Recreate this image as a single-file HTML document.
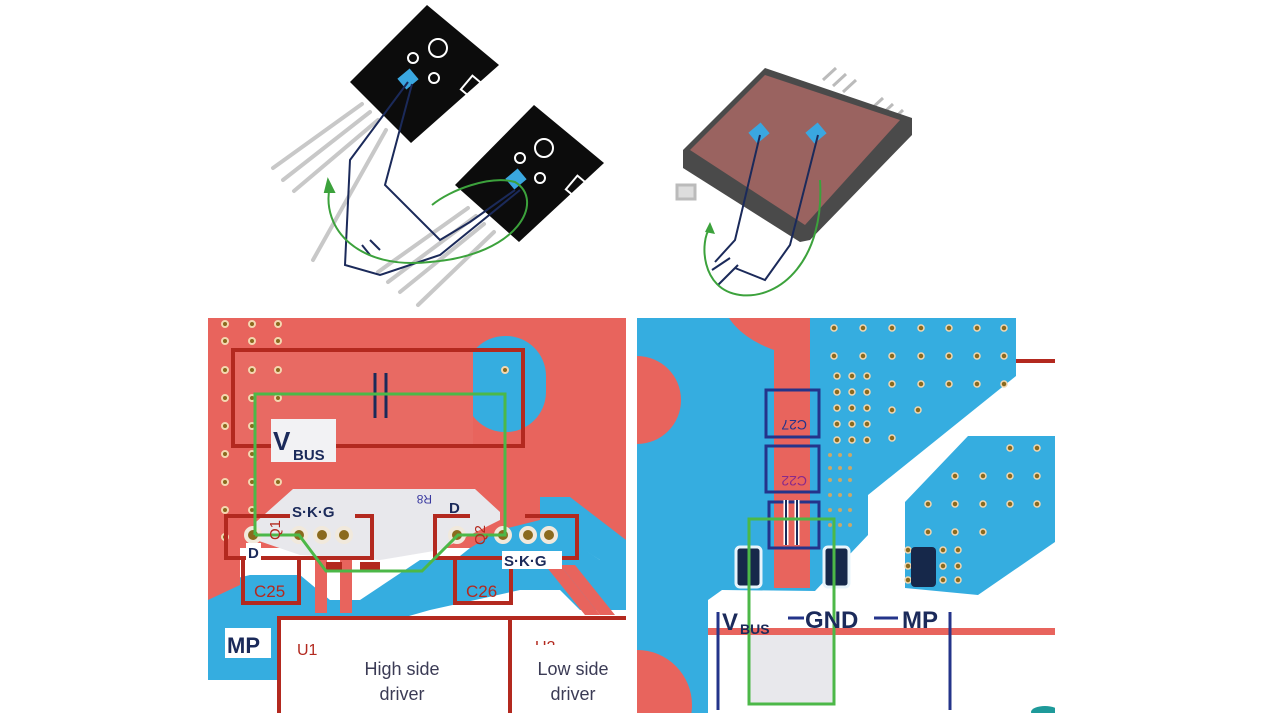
<!DOCTYPE html>
<html><head><meta charset="utf-8"><style>
html,body{margin:0;padding:0;background:#fff;width:1280px;height:721px;overflow:hidden;}
svg{display:block}
text{font-family:"Liberation Sans",Arial,sans-serif}
</style></head><body>
<svg width="1280" height="721" viewBox="0 0 1280 721" xmlns="http://www.w3.org/2000/svg">
<rect width="1280" height="721" fill="#fff"/>

<!-- ===== TOP LEFT: TO-247 packages ===== -->
<g stroke="#c8c8c8" stroke-width="4" stroke-linecap="round" fill="none">
  <line x1="362" y1="104" x2="273" y2="168"/>
  <line x1="370" y1="112" x2="283" y2="180"/>
  <line x1="378" y1="120" x2="294" y2="191"/>
  <line x1="386" y1="130" x2="313" y2="260"/>
  <line x1="468" y1="208" x2="378" y2="272"/>
  <line x1="476" y1="216" x2="388" y2="282"/>
  <line x1="484" y1="224" x2="400" y2="292"/>
  <line x1="494" y1="232" x2="418" y2="305"/>
</g>
<polygon points="350,82 427,5 499,65 411,143" fill="#0c0c0c"/>
<polygon points="455,185 534,105 604,163 519,242" fill="#0c0c0c"/>
<g fill="none" stroke="#fff" stroke-width="2">
  <circle cx="438" cy="48" r="9"/><circle cx="413" cy="58" r="5"/><circle cx="434" cy="78" r="5"/>
  <circle cx="544" cy="148" r="9"/><circle cx="520" cy="158" r="5"/><circle cx="540" cy="178" r="5"/>
  <rect x="465" y="78" width="14" height="18" transform="rotate(40 472 87)"/>
  <rect x="570" y="178" width="14" height="18" transform="rotate(40 577 187)"/>
</g>
<rect x="400" y="72" width="16" height="14" fill="#3aa7e0" transform="rotate(-40 408 79)"/>
<rect x="508" y="172" width="16" height="14" fill="#3aa7e0" transform="rotate(-40 516 179)"/>
<g fill="none" stroke="#1b2a5a" stroke-width="2">
  <polyline points="408,82 350,160 345,265 380,275 440,255 520,190"/>
  <polyline points="412,84 385,185 440,240 470,222 515,190"/>
  <line x1="362" y1="245" x2="370" y2="255"/><line x1="370" y1="240" x2="380" y2="250"/>
</g>
<g fill="none" stroke="#3ca23c" stroke-width="2">
  <path d="M330,185 C320,230 360,270 430,262 C520,255 545,200 515,182 C490,175 450,190 432,205"/>
  <polygon points="328,180 334,192 325,192" fill="#3ca23c"/>
</g>

<!-- ===== TOP RIGHT: SMD package ===== -->
<g stroke="#bbb" stroke-width="3" fill="none">
  <line x1="823" y1="80" x2="836" y2="68"/><line x1="833" y1="86" x2="846" y2="74"/><line x1="843" y1="92" x2="856" y2="80"/>
  <line x1="870" y1="110" x2="883" y2="98"/><line x1="880" y1="116" x2="893" y2="104"/><line x1="890" y1="122" x2="903" y2="110"/>
  <rect x="677" y="185" width="18" height="14" fill="#ddd"/>
</g>
<polygon points="683,150 765,68 912,118 912,135 810,240 800,242 683,168" fill="#4a4a4a"/>
<polygon points="690,150 765,75 900,120 805,225" fill="#9a6360"/>
<rect x="751" y="126" width="16" height="14" fill="#3aa7e0" transform="rotate(-40 759 133)"/>
<rect x="808" y="126" width="16" height="14" fill="#3aa7e0" transform="rotate(-40 816 133)"/>
<g stroke="#1b2a5a" stroke-width="2" fill="none">
  <polyline points="760,135 735,240 715,262"/>
  <polyline points="818,135 790,245 765,280 735,268"/>
  <line x1="712" y1="270" x2="730" y2="258"/><line x1="718" y1="285" x2="738" y2="265"/>
</g>
<path d="M820,180 C825,260 780,300 740,295 C700,290 700,240 710,228" fill="none" stroke="#3ca23c" stroke-width="2"/>
<polygon points="710,222 715,234 705,232" fill="#3ca23c"/>

<!-- ===== BOTTOM LEFT PANEL ===== -->
<clipPath id="cl"><rect x="208" y="318" width="418" height="395"/></clipPath>
<g clip-path="url(#cl)">
  <rect x="208" y="318" width="418" height="395" fill="#fff"/>
  <rect x="208" y="318" width="418" height="230" fill="#e8645d"/>
  <polygon points="208,585 250,575 300,575 330,600 360,600 420,560 455,560 470,548 500,530 540,520 600,560 626,560 626,610 580,610 560,590 520,590 430,610 360,630 330,640 300,680 208,680" fill="#35ade0"/>
  <polygon points="208,548 240,548 240,585 208,600" fill="#e8645d"/>
  <polygon points="293,489 475,489 500,512 500,520 440,550 380,560 300,555 256,540 256,522" fill="#e8e8ec"/>
  <polygon points="540,497 570,497 626,540 626,560 600,560 540,522" fill="#35ade0"/>
  <rect x="465" y="336" width="81" height="96" rx="40" fill="#35ade0"/>
  <rect x="233" y="350" width="240" height="96" fill="#e86a63"/>
  <rect x="279" y="618" width="347" height="95" fill="#fff"/>
  <polygon points="208,680 300,680 279,713 208,713" fill="#fff"/>
  <g fill="#8a6a1e" stroke="#f3d7b0" stroke-width="2">
    <circle cx="225" cy="324" r="3"/><circle cx="252" cy="324" r="3"/><circle cx="278" cy="324" r="3"/>
    <circle cx="225" cy="341" r="3"/><circle cx="252" cy="341" r="3"/><circle cx="278" cy="341" r="3"/>
    <circle cx="225" cy="370" r="3"/><circle cx="252" cy="370" r="3"/><circle cx="278" cy="370" r="3"/>
    <circle cx="225" cy="398" r="3"/><circle cx="252" cy="398" r="3"/><circle cx="278" cy="398" r="3"/>
    <circle cx="225" cy="426" r="3"/><circle cx="252" cy="426" r="3"/><circle cx="278" cy="426" r="3"/>
    <circle cx="225" cy="454" r="3"/><circle cx="252" cy="454" r="3"/><circle cx="278" cy="454" r="3"/>
    <circle cx="225" cy="482" r="3"/><circle cx="252" cy="482" r="3"/><circle cx="278" cy="482" r="3"/>
    <circle cx="225" cy="510" r="3"/><circle cx="252" cy="510" r="3"/>
    <circle cx="225" cy="537" r="3"/>
    <circle cx="505" cy="370" r="3"/>
  </g>
  <g fill="#e8645d">
    <rect x="315" y="558" width="12" height="55"/><rect x="340" y="558" width="12" height="55"/>
    <polygon points="545,565 560,565 600,615 585,615"/><polygon points="560,565 575,565 615,615 600,615"/>
  </g>
  <rect x="233" y="350" width="290" height="96" fill="none" stroke="#b3291f" stroke-width="4"/>
  <g fill="none" stroke="#b3291f" stroke-width="4">
    <polyline points="290,516 226,516 226,558 372,558 372,516 355,516"/>
    <polyline points="470,516 435,516 435,558 577,558 577,516 525,516"/>
    <polyline points="260,558 243,558 243,603 299,603 299,558"/>
    <polyline points="470,558 455,558 455,603 511,603 511,558"/>
    <line x1="277" y1="618" x2="626" y2="618"/>
    <line x1="279" y1="618" x2="279" y2="713"/>
    <line x1="510" y1="618" x2="510" y2="713"/>
  </g>
  <rect x="326" y="562" width="16" height="10" fill="#b3291f"/><rect x="360" y="562" width="20" height="10" fill="#b3291f"/>
  <g fill="#8a6a1e" stroke="#f1e9dc" stroke-width="4">
    <circle cx="253" cy="535" r="7"/><circle cx="299" cy="535" r="7"/><circle cx="322" cy="535" r="7"/><circle cx="344" cy="535" r="7"/>
    <circle cx="457" cy="535" r="7"/><circle cx="503" cy="535" r="7"/><circle cx="528" cy="535" r="7"/><circle cx="549" cy="535" r="7"/>
  </g>
  <g stroke="#1b2a5a" stroke-width="3"><line x1="375" y1="373" x2="375" y2="418"/><line x1="386" y1="373" x2="386" y2="418"/></g>
  <polyline points="255,535 255,394 505,394 505,535 458,535 422,571 326,571 299,535 255,535" fill="none" stroke="#4cb848" stroke-width="3"/>
  <rect x="271" y="419" width="65" height="43" fill="#f2f2f4"/>
  <text x="273" y="450" font-size="26" font-weight="bold" fill="#1b2a5a">V</text>
  <text x="293" y="460" font-size="15" font-weight="bold" fill="#1b2a5a">BUS</text>
  <g font-size="15" font-weight="bold" fill="#1b2a5a">
    <text x="292" y="517">S·K·G</text>
    <text x="449" y="513">D</text>
    <rect x="246" y="543" width="15" height="18" fill="#fff"/><text x="248" y="558">D</text>
    <rect x="502" y="551" width="60" height="18" fill="#fff"/><text x="504" y="566">S·K·G</text>
  </g>
  <text x="418" y="503" font-size="12" fill="#3a3aa0" transform="rotate(180 425 499)">R8</text>
  <text x="280" y="540" font-size="15" fill="#b3291f" transform="rotate(-90 280 540)">Q1</text>
  <text x="485" y="545" font-size="15" fill="#b3291f" transform="rotate(-90 485 545)">Q2</text>
  <text x="254" y="597" font-size="17" fill="#b3291f">C25</text>
  <text x="466" y="597" font-size="17" fill="#b3291f">C26</text>
  <rect x="225" y="628" width="46" height="30" fill="#fff"/>
  <text x="227" y="653" font-size="22" font-weight="bold" fill="#1b2a5a">MP</text>
  <text x="297" y="655" font-size="16" fill="#b3291f">U1</text>
  <text x="535" y="652" font-size="16" fill="#b3291f">U2</text>
  <rect x="530" y="645" width="40" height="10" fill="#fff"/>
  <g font-size="18" fill="#3b3b55" text-anchor="middle">
    <text x="402" y="675">High side</text><text x="402" y="700">driver</text>
    <text x="573" y="675">Low side</text><text x="573" y="700">driver</text>
  </g>
</g>

<!-- ===== BOTTOM RIGHT PANEL ===== -->
<clipPath id="cr"><rect x="637" y="318" width="418" height="395"/></clipPath>
<g clip-path="url(#cr)">
  <rect x="637" y="318" width="418" height="395" fill="#35ade0"/>
  <circle cx="637" cy="400" r="44" fill="#e8645d"/>
  <circle cx="637" cy="705" r="55" fill="#e8645d"/>
  <polygon points="1016,318 1055,318 1055,436 968,436 905,502 905,588 978,595 1055,542 1055,713 708,713 708,600 722,590 815,591 868,535 868,495 1016,376" fill="#fff"/>
  <path d="M729,318 H810 V588 H774 V350 C760,345 740,335 729,318Z" fill="#e8645d"/>
  <rect x="749" y="632" width="85" height="72" fill="#e8e8ec"/>
  <rect x="708" y="628" width="347" height="7" fill="#e8645d"/>
  <rect x="1016" y="359" width="39" height="4" fill="#b3291f"/>
  <g fill="#8a6a1e" stroke="#f3d7b0" stroke-width="1.5">
    <circle cx="834" cy="328" r="3"/><circle cx="863" cy="328" r="3"/><circle cx="892" cy="328" r="3"/><circle cx="921" cy="328" r="3"/><circle cx="949" cy="328" r="3"/><circle cx="977" cy="328" r="3"/><circle cx="1004" cy="328" r="3"/>
    <circle cx="834" cy="356" r="3"/><circle cx="863" cy="356" r="3"/><circle cx="892" cy="356" r="3"/><circle cx="921" cy="356" r="3"/><circle cx="949" cy="356" r="3"/><circle cx="977" cy="356" r="3"/><circle cx="1004" cy="356" r="3"/>
    <circle cx="837" cy="376" r="3"/><circle cx="852" cy="376" r="3"/><circle cx="867" cy="376" r="3"/><circle cx="892" cy="384" r="3"/><circle cx="921" cy="384" r="3"/><circle cx="949" cy="384" r="3"/><circle cx="977" cy="384" r="3"/><circle cx="1004" cy="384" r="3"/>
    <circle cx="837" cy="392" r="3"/><circle cx="852" cy="392" r="3"/><circle cx="867" cy="392" r="3"/>
    <circle cx="837" cy="408" r="3"/><circle cx="852" cy="408" r="3"/><circle cx="867" cy="408" r="3"/><circle cx="892" cy="410" r="3"/><circle cx="918" cy="410" r="3"/>
    <circle cx="837" cy="424" r="3"/><circle cx="852" cy="424" r="3"/><circle cx="867" cy="424" r="3"/>
    <circle cx="837" cy="440" r="3"/><circle cx="852" cy="440" r="3"/><circle cx="867" cy="440" r="3"/><circle cx="892" cy="438" r="3"/>
    <circle cx="1010" cy="448" r="3"/><circle cx="1037" cy="448" r="3"/>
    <circle cx="955" cy="476" r="3"/><circle cx="983" cy="476" r="3"/><circle cx="1010" cy="476" r="3"/><circle cx="1037" cy="476" r="3"/>
    <circle cx="928" cy="504" r="3"/><circle cx="955" cy="504" r="3"/><circle cx="983" cy="504" r="3"/><circle cx="1010" cy="504" r="3"/><circle cx="1037" cy="504" r="3"/>
    <circle cx="928" cy="532" r="3"/><circle cx="955" cy="532" r="3"/><circle cx="983" cy="532" r="3"/>
    <circle cx="908" cy="550" r="3"/><circle cx="943" cy="550" r="3"/><circle cx="958" cy="550" r="3"/>
    <circle cx="908" cy="566" r="3"/><circle cx="943" cy="566" r="3"/><circle cx="958" cy="566" r="3"/>
    <circle cx="908" cy="580" r="3"/><circle cx="943" cy="580" r="3"/><circle cx="958" cy="580" r="3"/>
  </g>
  <g fill="#c9a86a">
    <circle cx="830" cy="455" r="2"/><circle cx="840" cy="455" r="2"/><circle cx="850" cy="455" r="2"/>
    <circle cx="830" cy="468" r="2"/><circle cx="840" cy="468" r="2"/><circle cx="850" cy="468" r="2"/>
    <circle cx="830" cy="480" r="2"/><circle cx="840" cy="480" r="2"/><circle cx="850" cy="480" r="2"/>
    <circle cx="830" cy="495" r="2"/><circle cx="840" cy="495" r="2"/><circle cx="850" cy="495" r="2"/>
    <circle cx="830" cy="510" r="2"/><circle cx="840" cy="510" r="2"/><circle cx="850" cy="510" r="2"/>
    <circle cx="830" cy="525" r="2"/><circle cx="840" cy="525" r="2"/><circle cx="850" cy="525" r="2"/>
  </g>
  <g fill="none" stroke="#24348a" stroke-width="3">
    <rect x="766" y="390" width="53" height="47"/>
    <rect x="766" y="446" width="53" height="46"/>
    <rect x="769" y="502" width="50" height="46"/>
  </g>
  <text x="773" y="430" font-size="14" fill="#24348a" transform="rotate(180 790 425)">C27</text>
  <text x="773" y="486" font-size="14" fill="#8a2a8a" transform="rotate(180 790 481)">C22</text>
  <g stroke="#fff" stroke-width="5"><line x1="786" y1="500" x2="786" y2="545"/><line x1="797" y1="500" x2="797" y2="545"/></g>
  <g stroke="#1b2a5a" stroke-width="2"><line x1="786" y1="500" x2="786" y2="545"/><line x1="797" y1="500" x2="797" y2="545"/></g>
  <g fill="#16284a" stroke="#e8f4fb" stroke-width="3">
    <rect x="736" y="547" width="25" height="40" rx="4"/>
    <rect x="824" y="547" width="25" height="40" rx="4"/>
  </g>
  <rect x="911" y="547" width="25" height="40" rx="4" fill="#16284a"/>
  <rect x="749" y="519" width="85" height="185" fill="none" stroke="#4cb848" stroke-width="3"/>
  <g stroke="#24348a" stroke-width="3">
    <line x1="718" y1="612" x2="718" y2="710"/><line x1="950" y1="612" x2="950" y2="710"/>
    <line x1="788" y1="618" x2="804" y2="618"/><line x1="874" y1="618" x2="898" y2="618"/>
  </g>
  <text x="722" y="630" font-size="24" font-weight="bold" fill="#1b2a5a">V</text>
  <text x="740" y="634" font-size="14" font-weight="bold" fill="#1b2a5a">BUS</text>
  <text x="805" y="628" font-size="24" font-weight="bold" fill="#1b2a5a">GND</text>
  <text x="902" y="628" font-size="24" font-weight="bold" fill="#1b2a5a">MP</text>
  <ellipse cx="1045" cy="712" rx="14" ry="6" fill="#1e9a9a"/>
</g>
</svg>
</body></html>
